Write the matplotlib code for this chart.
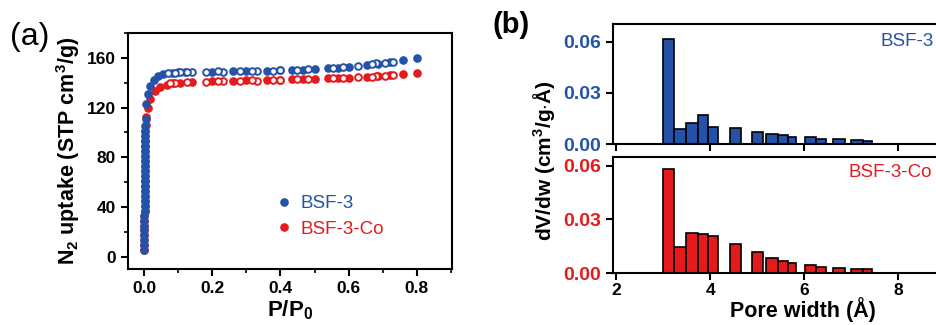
import matplotlib
matplotlib.use("Agg")
import matplotlib.pyplot as plt
from matplotlib.ticker import MultipleLocator

# ---------------- data: panel (a) N2 isotherms ----------------
bsf3_ads_p = [0.0001, 0.0001, 0.0002, 0.0002, 0.0003, 0.0003, 0.0004, 0.0004, 0.0005, 0.0005,
              0.0006, 0.0006, 0.0007, 0.0007, 0.0008, 0.0009, 0.0010, 0.0011, 0.0012, 0.0013,
              0.0015, 0.0017, 0.0019, 0.0022, 0.0026, 0.0032, 0.0040, 0.0060, 0.0100, 0.0180,
              0.027, 0.041, 0.056, 0.080, 0.100, 0.120, 0.200, 0.260, 0.300, 0.360,
              0.400, 0.433, 0.467, 0.501, 0.540, 0.570, 0.602, 0.653, 0.687, 0.722,
              0.761, 0.800]
bsf3_ads_v = [5, 9, 13, 17, 21, 25, 29, 33, 37, 41,
              45, 49, 53, 57, 61, 65, 69, 73, 77, 81,
              85, 89, 93, 97, 101, 105, 111, 123, 131, 137,
              142.5, 145.5, 147, 147.8, 148.2, 148.4, 148.8, 149.2, 149.4, 149.6,
              150.0, 150.2, 150.5, 151.0, 151.5, 152.0, 152.8, 154.2, 155.2, 156.5,
              158.0, 160.2]
bsf3_des_p = [0.731, 0.707, 0.682, 0.668, 0.629, 0.584, 0.555, 0.482, 0.448, 0.398,
              0.379, 0.330, 0.315, 0.281, 0.232, 0.217, 0.181, 0.140, 0.125, 0.105,
              0.090, 0.070]
bsf3_des_v = [157.0, 156.0, 155.5, 154.8, 153.5, 152.3, 151.8, 150.8, 150.4, 150.2,
              149.8, 149.3, 149.6, 149.3, 149.0, 149.2, 148.8, 148.6, 148.4, 148.2,
              147.8, 147.4]

co_ads_p = [0.0001, 0.0001, 0.0002, 0.0002, 0.0003, 0.0003, 0.0004, 0.0004, 0.0005, 0.0005,
            0.0006, 0.0006, 0.0007, 0.0007, 0.0008, 0.0009, 0.0010, 0.0011, 0.0012, 0.0013,
            0.0015, 0.0017, 0.0019, 0.0022, 0.0026, 0.0035, 0.0060, 0.0110, 0.0180, 0.0310,
            0.046, 0.066, 0.085, 0.105, 0.140, 0.200, 0.260, 0.300, 0.360, 0.400,
            0.433, 0.467, 0.501, 0.540, 0.570, 0.602, 0.653, 0.687, 0.722, 0.761,
            0.800]
co_ads_v = [5, 9, 13, 17, 21, 25, 29, 33, 37, 41,
            45, 49, 53, 57, 61, 65, 69, 73, 77, 81,
            85, 89, 93, 97, 101, 106, 112, 120, 127, 133,
            136.5, 138.5, 139.5, 140.0, 140.3, 141.0, 141.6, 141.8, 142.2, 142.4,
            142.6, 142.9, 143.2, 143.5, 143.8, 144.0, 144.8, 145.3, 146.0, 146.6,
            147.8]
co_des_p = [0.731, 0.707, 0.682, 0.668, 0.629, 0.584, 0.555, 0.482, 0.448, 0.398,
            0.379, 0.330, 0.315, 0.281, 0.232, 0.217, 0.181, 0.125, 0.090, 0.075]
co_des_v = [145.8, 145.4, 145.0, 144.8, 144.2, 143.6, 143.4, 143.0, 142.7, 142.5,
            142.2, 141.6, 141.9, 141.5, 141.2, 141.3, 140.8, 140.4, 140.0, 139.6]

# ---------------- data: panel (b) pore size distributions ----------------
bin_left = [2.99, 3.23, 3.48, 3.74, 3.96, 4.41, 4.88, 5.18, 5.43, 5.65, 6.01, 6.24, 6.61, 7.00, 7.25]
bin_right = [3.23, 3.48, 3.74, 3.96, 4.16, 4.66, 5.13, 5.43, 5.65, 5.83, 6.24, 6.47, 6.86, 7.25, 7.45]
bsf3_dvdw = [0.0614, 0.0091, 0.0123, 0.0170, 0.0103, 0.0095, 0.0074, 0.0060, 0.0053, 0.0043,
             0.0041, 0.0033, 0.0029, 0.0023, 0.0018]
co_dvdw = [0.0580, 0.0145, 0.0226, 0.0219, 0.0208, 0.0163, 0.0117, 0.0087, 0.0070, 0.0059,
           0.0045, 0.0037, 0.0030, 0.0026, 0.0022]

labels = ["BSF-3", "BSF-3-Co"]
BLUE = "#2452a8"
RED = "#e41a1c"

plt.rcParams['font.family'] = ['Liberation Sans', 'DejaVu Sans']
plt.rcParams['mathtext.fontset'] = 'custom'
plt.rcParams['mathtext.rm'] = 'Liberation Sans'
plt.rcParams['mathtext.bf'] = 'Liberation Sans:bold'

W, H = 936, 325
fig = plt.figure(figsize=(W / 100, H / 100), dpi=100)
fig.patch.set_facecolor("white")


def style_axes(ax, xsize=12.5, ysize=12.5):
    for s in ax.spines.values():
        s.set_linewidth(1.5)
    ax.tick_params(which='major', direction='out', length=5, width=1.5)
    ax.tick_params(which='minor', direction='out', length=3, width=1.2)
    ax.tick_params(axis='x', labelsize=xsize)
    ax.tick_params(axis='y', labelsize=ysize)
    for lab in ax.get_xticklabels() + ax.get_yticklabels():
        lab.set_fontweight('bold')


# ---------------- panel (a) ----------------
axa = fig.add_axes([128 / W, 1 - 269 / H, 324 / W, 236 / H])
ms = 4.8
mew = 1.4
axa.plot(co_ads_p, co_ads_v, 'o', ms=ms, mfc=RED, mec=RED, mew=mew, label=labels[1], zorder=3)
axa.plot(co_des_p, co_des_v, 'o', ms=ms, mfc='white', mec=RED, mew=mew, zorder=3)
axa.plot(bsf3_ads_p, bsf3_ads_v, 'o', ms=ms, mfc=BLUE, mec=BLUE, mew=mew, label=labels[0], zorder=4)
axa.plot(bsf3_des_p, bsf3_des_v, 'o', ms=ms, mfc='white', mec=BLUE, mew=mew, zorder=4)
axa.set_xlim(-0.048, 0.904)
axa.set_ylim(-10, 180)
axa.xaxis.set_minor_locator(MultipleLocator(0.1))
axa.yaxis.set_minor_locator(MultipleLocator(20))
axa.set_xticks([0, 0.2, 0.4, 0.6, 0.8])
axa.set_xticklabels(["0.0", "0.2", "0.4", "0.6", "0.8"])
axa.set_yticks([0, 40, 80, 120, 160])
style_axes(axa, 12.5, 12.5)
axa.set_xlabel(r"$\mathbf{P/P_0}$", fontsize=16, labelpad=2)
axa.set_ylabel(r"$\mathbf{N_2}$ uptake (STP cm$^\mathbf{3}$/g)", fontsize=15.5, fontweight='bold', labelpad=4)
h, l = axa.get_legend_handles_labels()
leg = axa.legend(h[::-1], l[::-1], loc='lower left', bbox_to_anchor=(0.405, 0.06), frameon=False,
                 fontsize=13.5, handlelength=0.8, handletextpad=0.5, labelspacing=0.45, markerscale=1.0)
for t, c in zip(leg.get_texts(), [BLUE, RED]):
    t.set_color(c)
fig.text(10 / W, 1 - 37 / H, "(a)", fontsize=23, va='center', ha='left')

# ---------------- panel (b) ----------------
x_lo, x_hi = 1.93, 10.0
pxu = 47.0
axb_w = (x_hi - x_lo) * pxu
axt = fig.add_axes([613 / W, 1 - 144.3 / H, axb_w / W, (144.3 - 24) / H])
axb = fig.add_axes([613 / W, 1 - 273.3 / H, axb_w / W, (273.3 - 157) / H])

widths = [r - lft for lft, r in zip(bin_left, bin_right)]
axt.bar(bin_left, bsf3_dvdw, width=widths, align='edge', color=BLUE, edgecolor='black', linewidth=1.2)
axb.bar(bin_left, co_dvdw, width=widths, align='edge', color=RED, edgecolor='black', linewidth=1.2)

for ax, ymax, col in [(axt, 0.0703, BLUE), (axb, 0.0648, RED)]:
    ax.set_xlim(x_lo, x_hi)
    ax.set_ylim(0, ymax)
    ax.set_xticks([2, 4, 6, 8])
    ax.set_yticks([0.0, 0.03, 0.06])
    ax.set_yticklabels(["0.00", "0.03", "0.06"])
    style_axes(ax, 12.5, 14)
    for lab in ax.get_yticklabels():
        lab.set_color(col)
axt.tick_params(axis='x', labelbottom=False)
axb.tick_params(axis='x', pad=2)
axb.set_xlabel("Pore width (Å)", fontsize=15.5, fontweight='bold', labelpad=-1)
fig.text(545 / W, 1 - 161 / H, r"dV/dw (cm$^\mathbf{3}$/g$\cdot$Å)", rotation=90, fontsize=15,
         fontweight='bold', ha='center', va='center')
axt.text(881 / W, 1 - 42 / H, "BSF-3", transform=fig.transFigure, fontsize=13.5, color=BLUE,
         ha='left', va='center')
axb.text(849 / W, 1 - 172 / H, "BSF-3-Co", transform=fig.transFigure, fontsize=13.5, color=RED,
         ha='left', va='center')
fig.text(493 / W, 1 - 25 / H, "(b)", fontsize=21, fontweight='bold', va='center', ha='left')

fig.savefig("out.png", dpi=100, facecolor="white")
